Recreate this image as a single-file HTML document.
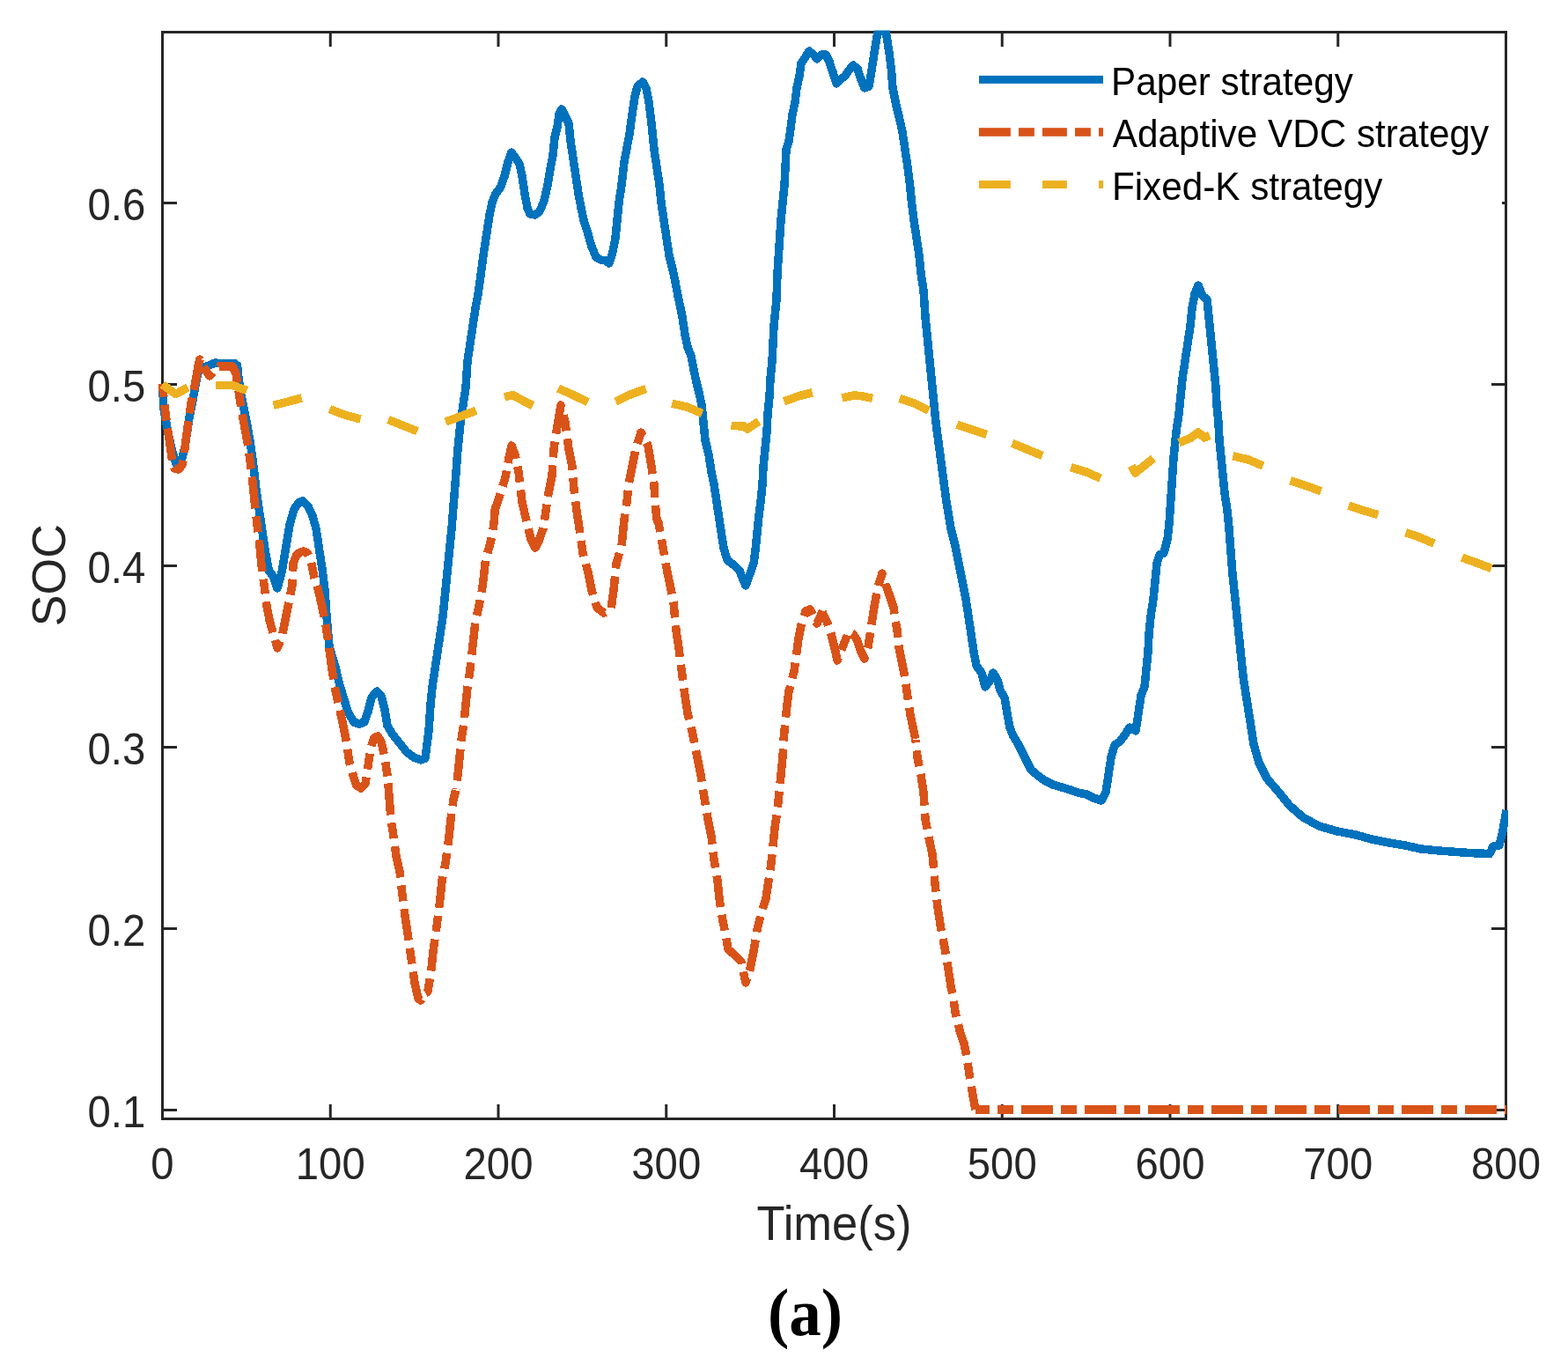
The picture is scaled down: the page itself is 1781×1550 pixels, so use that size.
<!DOCTYPE html><html><head><meta charset="utf-8"><title>SOC</title><style>
html,body{margin:0;padding:0;background:#fff;overflow:hidden;}
svg{display:block;}
text{font-family:"Liberation Sans",Arial,Helvetica,sans-serif;}
</style></head><body>
<svg width="1781" height="1550" viewBox="0 0 1781 1550">
<rect width="1781" height="1550" fill="#fff"/>
<defs><clipPath id="pc"><rect x="176" y="34.5" width="1537" height="1238"/></clipPath></defs>
<g stroke="#262626" fill="none" stroke-width="3" stroke-linecap="square">
<rect x="184.5" y="36.5" width="1526.0" height="1234.0"/>
</g>
<g stroke="#262626" stroke-width="3" fill="none">
<path d="M375.25 1270.5V1254.0M375.25 36.5V53.0"/>
<path d="M566.00 1270.5V1254.0M566.00 36.5V53.0"/>
<path d="M756.75 1270.5V1254.0M756.75 36.5V53.0"/>
<path d="M947.50 1270.5V1254.0M947.50 36.5V53.0"/>
<path d="M1138.25 1270.5V1254.0M1138.25 36.5V53.0"/>
<path d="M1329.00 1270.5V1254.0M1329.00 36.5V53.0"/>
<path d="M1519.75 1270.5V1254.0M1519.75 36.5V53.0"/>
<path d="M184.5 1260.50H201.0M1710.5 1260.50H1694.0"/>
<path d="M184.5 1054.50H201.0M1710.5 1054.50H1694.0"/>
<path d="M184.5 848.50H201.0M1710.5 848.50H1694.0"/>
<path d="M184.5 642.50H201.0M1710.5 642.50H1694.0"/>
<path d="M184.5 436.50H201.0M1710.5 436.50H1694.0"/>
<path d="M184.5 230.50H201.0M1710.5 230.50H1706.0"/>
</g>
<text transform="translate(184.50 1338.50) scale(0.985 1.045)" font-size="48.0" fill="#262626" text-anchor="middle">0</text>
<text transform="translate(375.25 1338.50) scale(0.985 1.045)" font-size="48.0" fill="#262626" text-anchor="middle">100</text>
<text transform="translate(566.00 1338.50) scale(0.985 1.045)" font-size="48.0" fill="#262626" text-anchor="middle">200</text>
<text transform="translate(756.75 1338.50) scale(0.985 1.045)" font-size="48.0" fill="#262626" text-anchor="middle">300</text>
<text transform="translate(947.50 1338.50) scale(0.985 1.045)" font-size="48.0" fill="#262626" text-anchor="middle">400</text>
<text transform="translate(1138.25 1338.50) scale(0.985 1.045)" font-size="48.0" fill="#262626" text-anchor="middle">500</text>
<text transform="translate(1329.00 1338.50) scale(0.985 1.045)" font-size="48.0" fill="#262626" text-anchor="middle">600</text>
<text transform="translate(1519.75 1338.50) scale(0.985 1.045)" font-size="48.0" fill="#262626" text-anchor="middle">700</text>
<text transform="translate(1710.50 1338.50) scale(0.985 1.045)" font-size="48.0" fill="#262626" text-anchor="middle">800</text>
<text transform="translate(165.30 1279.80) scale(0.985 1.045)" font-size="48.0" fill="#262626" text-anchor="end">0.1</text>
<text transform="translate(165.30 1073.80) scale(0.985 1.045)" font-size="48.0" fill="#262626" text-anchor="end">0.2</text>
<text transform="translate(165.30 867.80) scale(0.985 1.045)" font-size="48.0" fill="#262626" text-anchor="end">0.3</text>
<text transform="translate(165.30 661.80) scale(0.985 1.045)" font-size="48.0" fill="#262626" text-anchor="end">0.4</text>
<text transform="translate(165.30 455.80) scale(0.985 1.045)" font-size="48.0" fill="#262626" text-anchor="end">0.5</text>
<text transform="translate(165.30 249.80) scale(0.985 1.045)" font-size="48.0" fill="#262626" text-anchor="end">0.6</text>
<text transform="translate(947.50 1407.70) scale(0.995 1.036)" font-size="52.8" fill="#262626" text-anchor="middle">Time(s)</text>
<text transform="translate(74.4 653.2) rotate(-90) scale(1.015 1.0)" font-size="52.8" fill="#262626" text-anchor="middle">SOC</text>
<g clip-path="url(#pc)" fill="none" stroke-width="9.5" stroke-linejoin="round" shape-rendering="crispEdges">
<polyline points="184.5,436.0 186.0,464.0 191.0,492.0 195.0,510.0 200.0,527.0 206.0,523.0 210.0,508.0 215.0,474.0 219.0,454.0 223.0,432.0 227.0,415.0 232.0,417.0 240.0,414.0 244.0,412.0 250.0,412.5 260.0,412.5 266.0,412.5 269.5,415.0 271.0,430.0 273.5,446.0 277.0,464.0 281.0,484.0 284.5,504.0 288.0,530.0 291.0,556.0 294.5,580.0 298.0,604.0 302.0,630.0 305.5,648.0 310.0,654.0 315.0,668.0 320.0,650.0 324.0,626.0 329.0,596.0 334.0,578.0 340.0,570.0 344.0,569.0 350.0,575.0 355.0,586.0 359.0,600.0 362.0,620.0 366.0,646.0 369.0,670.0 371.0,700.0 374.0,734.0 380.0,754.0 386.0,778.0 392.0,798.0 396.0,810.0 402.0,820.0 408.0,822.0 414.0,820.0 418.0,808.0 422.0,792.0 428.0,785.0 433.0,790.0 437.0,806.0 440.0,824.0 446.0,834.0 454.0,844.0 462.0,854.0 470.0,860.0 478.0,863.0 483.0,861.0 485.0,845.0 487.0,830.0 489.0,800.0 491.0,780.0 494.0,760.0 497.0,740.0 500.0,720.0 503.0,700.0 505.0,680.0 507.0,660.0 509.0,640.0 511.0,620.0 513.0,600.0 517.0,550.0 520.0,510.0 523.0,480.0 526.0,460.0 529.0,440.0 531.0,410.0 534.0,390.0 537.0,370.0 540.0,350.0 543.0,334.0 545.0,320.0 549.0,290.0 553.0,264.0 556.0,244.0 559.0,230.0 563.0,220.0 569.0,212.0 573.0,200.0 577.0,184.0 581.0,173.0 586.0,180.0 590.0,186.0 593.0,200.0 596.0,220.0 599.0,236.0 602.0,243.0 608.0,244.0 613.0,240.0 618.0,228.0 622.0,210.0 625.0,192.0 628.0,176.0 630.0,156.0 633.0,144.0 635.0,130.0 638.0,124.0 642.0,132.0 646.0,140.0 648.0,160.0 651.0,180.0 654.0,200.0 657.0,220.0 660.0,236.0 663.0,250.0 668.0,266.0 672.0,280.0 677.0,292.0 682.0,295.0 688.0,296.0 692.0,299.0 696.0,286.0 699.0,270.0 701.0,250.0 703.0,230.0 706.0,210.0 709.0,184.0 712.0,168.0 715.0,152.0 718.0,130.0 721.0,110.0 724.0,98.0 730.0,93.0 734.0,100.0 737.0,116.0 740.0,140.0 743.0,170.0 746.0,190.0 749.0,210.0 751.0,230.0 754.0,250.0 757.0,270.0 760.0,290.0 764.0,306.0 767.0,320.0 770.0,336.0 773.0,350.0 775.0,360.0 778.0,380.0 781.0,394.0 785.0,404.0 788.0,420.0 791.0,434.0 794.0,446.0 797.0,460.0 799.0,480.0 801.0,500.0 805.0,516.0 808.0,536.0 811.0,550.0 814.0,570.0 817.0,590.0 820.0,610.0 822.0,622.0 826.0,636.0 834.0,642.0 840.0,648.0 844.0,658.0 847.0,665.0 851.0,654.0 856.0,640.0 858.0,625.0 860.0,605.0 862.0,585.0 864.0,570.0 866.0,550.0 867.0,530.0 869.0,510.0 871.0,490.0 872.0,470.0 874.0,450.0 875.0,430.0 877.0,410.0 878.0,390.0 879.0,370.0 881.0,350.0 882.0,340.0 883.0,310.0 885.0,280.0 887.0,250.0 889.0,230.0 891.0,210.0 892.0,190.0 893.0,170.0 896.0,160.0 898.0,146.0 900.0,130.0 903.0,116.0 905.0,100.0 908.0,86.0 910.0,72.0 914.0,66.0 919.0,58.0 924.0,62.0 928.0,67.0 933.0,62.0 938.0,62.0 942.0,70.0 946.0,82.0 950.0,95.0 955.0,90.0 960.0,86.0 964.0,80.0 969.0,74.0 974.0,78.0 978.0,90.0 982.0,100.0 987.0,98.0 990.0,80.0 993.0,60.0 996.0,42.0 998.5,31.0 1002.0,35.0 1005.5,31.0 1007.5,44.0 1010.0,60.0 1012.5,80.0 1014.0,100.0 1018.0,120.0 1021.5,134.0 1025.0,150.0 1028.0,170.0 1031.0,190.0 1033.5,210.0 1035.5,230.0 1038.0,250.0 1041.0,270.0 1044.0,290.0 1046.0,310.0 1049.0,330.0 1051.0,360.0 1054.0,390.0 1057.0,420.0 1060.0,450.0 1063.0,480.0 1067.0,510.0 1071.0,540.0 1075.0,570.0 1080.0,600.0 1085.0,620.0 1089.0,640.0 1093.0,660.0 1097.0,680.0 1100.0,700.0 1103.0,720.0 1106.0,740.0 1109.0,756.0 1115.0,764.0 1119.0,780.0 1125.0,772.0 1128.0,764.0 1133.0,772.0 1136.0,784.0 1141.0,792.0 1144.0,810.0 1147.0,826.0 1151.0,836.0 1156.0,844.0 1161.0,854.0 1166.0,864.0 1171.0,874.0 1178.0,880.0 1186.0,886.0 1196.0,891.0 1206.0,894.0 1216.0,897.0 1224.0,900.0 1234.0,902.0 1242.0,906.0 1251.0,909.0 1256.0,900.0 1259.0,880.0 1262.0,860.0 1266.0,846.0 1272.0,842.0 1278.0,834.0 1283.0,826.0 1290.0,830.0 1293.0,810.0 1296.0,790.0 1300.0,780.0 1302.0,760.0 1304.0,740.0 1305.0,720.0 1307.0,700.0 1310.0,680.0 1312.0,660.0 1314.0,640.0 1317.0,630.0 1322.0,628.0 1326.0,612.0 1328.0,595.0 1329.0,580.0 1331.0,550.0 1333.0,520.0 1336.0,490.0 1339.0,470.0 1341.0,450.0 1343.0,430.0 1346.0,410.0 1349.0,390.0 1352.0,370.0 1354.0,350.0 1357.0,334.0 1361.0,324.0 1366.0,336.0 1371.0,340.0 1373.0,360.0 1375.0,380.0 1377.0,400.0 1379.0,420.0 1381.0,440.0 1382.0,460.0 1384.0,480.0 1385.0,500.0 1387.0,520.0 1389.0,540.0 1391.0,560.0 1394.0,580.0 1396.0,600.0 1400.0,652.0 1404.0,690.0 1408.0,729.0 1412.0,768.0 1416.0,794.0 1420.0,819.0 1424.0,845.0 1430.0,866.0 1439.0,884.0 1452.0,899.0 1465.0,915.0 1480.0,928.0 1498.0,938.0 1519.0,944.0 1540.0,948.0 1558.0,953.0 1578.0,957.0 1596.0,960.0 1614.0,964.0 1635.0,966.0 1661.0,968.0 1679.0,969.0 1692.0,969.5 1696.0,961.0 1703.0,960.0 1707.0,943.0 1711.0,920.0" stroke="#0072BD" stroke-linecap="butt"/>
<polyline points="184.5,436.0 187.0,462.0 190.0,484.0 193.0,505.0 195.5,522.0 198.0,532.0 203.0,533.0 207.0,528.0 209.0,518.0 211.0,500.0 213.5,482.0 217.0,458.0 220.0,444.0 223.0,428.0 225.5,413.0 227.0,408.0 231.0,416.0 238.0,427.0 244.0,420.0 249.0,416.0 256.0,416.0 264.0,416.0 268.0,424.0 271.0,444.0 274.0,464.0 278.0,486.0 282.0,508.0 286.0,538.0 289.0,568.0 292.0,596.0 295.0,620.0 297.0,642.0 300.2,665.5" stroke="#D95319" stroke-dasharray="36 9 18 9" stroke-dashoffset="21.2" stroke-linecap="butt"/>
<polyline points="300.0,664.0 303.0,688.0 306.0,704.0 310.0,718.0 315.0,736.0 320.0,724.0 324.0,704.0 328.0,684.0 332.0,664.0 333.0,640.0 337.0,630.0 341.0,627.0 345.0,626.0 349.0,628.0 353.0,636.0 357.0,656.0 362.0,672.0 366.0,690.0 370.0,710.0 373.0,730.0 377.0,760.0 381.0,784.0 385.0,802.0 389.0,820.0 393.0,840.0 397.0,866.0 401.0,880.0 405.0,892.0 410.0,895.0 415.0,890.0 418.0,870.0 421.0,850.0 425.0,838.0 429.0,836.0 433.0,842.0 437.0,860.0 440.2,881.5" stroke="#D95319" stroke-dasharray="36 9 18 9" stroke-dashoffset="52.7" stroke-linecap="butt"/>
<polyline points="440.0,880.0 442.0,904.0 444.0,930.0 447.0,950.0 450.0,972.0 454.0,990.0 457.0,1016.0 460.0,1040.0 463.0,1060.0 467.0,1088.0 471.0,1116.0 475.0,1134.0 478.0,1136.0 482.0,1128.0 486.0,1126.0 490.0,1100.0 492.0,1080.0 496.0,1052.0 500.0,1020.0 502.0,1000.0 506.0,980.0 510.0,950.0 512.0,930.0 515.0,908.0 518.4,894.5" stroke="#D95319" stroke-dasharray="36 9 18 9" stroke-dashoffset="62.5" stroke-linecap="butt"/>
<polyline points="518.0,896.0 520.0,880.0 524.0,840.0 527.0,820.0 529.0,800.0 531.0,780.0 534.0,760.0 538.0,724.0 540.0,706.0 544.0,688.0 547.5,670.0 550.0,650.0 551.5,636.0 556.0,620.0 559.5,606.0 561.4,590.5" stroke="#D95319" stroke-dasharray="36 9 18 9" stroke-dashoffset="62.4" stroke-linecap="butt"/>
<polyline points="561.2,592.0 562.3,578.0 566.5,566.0 573.6,544.0 578.0,520.0 581.0,506.0 585.0,516.0 589.0,536.0 593.0,570.0 598.0,592.0 603.4,613.5" stroke="#D95319" stroke-dasharray="36 9 18 9" stroke-dashoffset="3.6" stroke-linecap="butt"/>
<polyline points="603.0,612.0 608.0,622.0 613.0,612.0 617.0,600.0 620.0,580.0 623.0,560.0 627.0,540.0 629.0,510.0 632.0,490.0 637.0,460.0 642.0,480.0 646.0,510.0 650.0,530.0 652.0,556.0 655.0,580.0 658.0,600.0 662.0,628.0 668.0,650.0 672.0,670.0 678.0,690.0 686.0,696.0 694.0,692.0 697.0,670.0 700.0,640.0 706.0,620.0 708.0,600.0 709.0,590.0 712.0,570.0 714.0,550.0 718.0,530.0 722.0,510.0 728.0,491.0 736.0,506.0 740.0,530.0 743.0,550.0 744.0,570.0 746.0,590.0 748.7,595.3" stroke="#D95319" stroke-dasharray="36 9 18 9" stroke-dashoffset="0.5" stroke-linecap="butt"/>
<polyline points="748.0,594.0 752.0,616.0 758.0,650.0 761.0,664.0 765.0,684.0 768.0,716.0 771.0,736.0 774.0,760.0 778.0,790.0 781.0,810.0 786.0,830.0 792.0,860.0 796.0,880.0 800.0,906.0 804.0,930.0 808.0,950.0 811.0,976.0 815.0,1000.0 817.0,1020.0 821.0,1046.0 824.0,1060.0 827.0,1078.0 834.0,1084.0 842.0,1092.0 847.0,1116.0 852.0,1100.0 856.0,1080.0 860.0,1056.0 865.0,1036.0 870.0,1020.0 873.0,1000.0 876.0,980.0 878.0,960.0 880.0,940.0 883.0,920.0 885.0,900.0 887.0,880.0 889.1,858.5" stroke="#D95319" stroke-dasharray="36 9 18 9" stroke-dashoffset="26.0" stroke-linecap="butt"/>
<polyline points="889.0,860.0 890.0,840.0 892.0,820.0 894.0,800.0 896.0,785.0 902.0,762.0 905.0,740.0 907.0,725.0 910.0,710.0 915.0,694.0 920.0,692.0 928.0,708.0 934.6,693.6" stroke="#D95319" stroke-dasharray="36 9 18 9" stroke-dashoffset="26.4" stroke-linecap="butt"/>
<polyline points="934.0,695.0 940.0,708.0 944.0,720.0 949.0,740.0 951.0,750.0 955.0,740.0 959.0,730.0 964.0,717.0 969.0,720.0 973.0,726.0 978.0,740.0 982.0,748.0 986.0,735.0 989.0,715.0 992.0,695.0 995.0,678.0 998.0,664.0 1002.0,651.0 1006.0,664.0 1010.0,675.0 1015.0,690.0 1017.0,705.0 1019.0,715.0 1021.0,735.0 1024.0,750.0 1027.0,765.0 1030.0,785.0 1034.0,812.0 1040.3,841.5" stroke="#D95319" stroke-dasharray="36 9 18 9" stroke-dashoffset="46.4" stroke-linecap="butt"/>
<polyline points="1040.0,840.0 1042.0,860.0 1046.0,880.0 1049.0,900.0 1051.0,930.0 1056.0,956.0 1059.0,970.0 1060.0,980.0 1062.0,1004.0 1065.0,1030.0 1068.0,1050.0 1073.0,1076.0 1077.0,1100.0 1080.0,1120.0 1082.0,1129.0 1085.0,1149.0 1090.0,1170.0 1095.0,1185.0 1098.0,1200.0 1101.0,1220.0 1105.0,1244.0 1108.0,1260.0" stroke="#D95319" stroke-dasharray="36 9 18 9" stroke-dashoffset="32.6" stroke-linecap="butt"/>
<path d="M1108.0 1260.0H1711.0" stroke="#D95319" stroke-dasharray="36 9 18 9" stroke-dashoffset="20.0" stroke-linecap="butt"/>
<polyline points="184.5,436.5 199.5,447.5 213.5,440.0" stroke="#EDB120" stroke-linecap="butt"/>
<polyline points="245.3,437.5 264.0,437.5 280.5,443.5" stroke="#EDB120" stroke-linecap="butt"/>
<polyline points="310.5,460.3 342.8,452.0" stroke="#EDB120" stroke-linecap="butt"/>
<polyline points="374.4,464.5 391.0,471.0 409.5,476.0" stroke="#EDB120" stroke-linecap="butt"/>
<polyline points="441.0,476.6 457.5,483.0 474.0,489.8" stroke="#EDB120" stroke-linecap="butt"/>
<polyline points="506.3,479.0 540.7,466.3" stroke="#EDB120" stroke-linecap="butt"/>
<polyline points="573.0,451.0 582.5,448.5 594.0,455.0 605.3,460.6" stroke="#EDB120" stroke-linecap="butt"/>
<polyline points="634.0,441.0 650.0,448.0 667.8,456.8" stroke="#EDB120" stroke-linecap="butt"/>
<polyline points="699.3,456.0 716.0,448.0 733.7,441.4" stroke="#EDB120" stroke-linecap="butt"/>
<polyline points="763.2,458.2 780.0,462.0 797.6,469.4" stroke="#EDB120" stroke-linecap="butt"/>
<polyline points="830.5,483.5 845.0,484.0 849.0,487.0 862.0,478.3" stroke="#EDB120" stroke-linecap="butt"/>
<polyline points="890.5,455.8 908.0,449.5 922.8,445.8" stroke="#EDB120" stroke-linecap="butt"/>
<polyline points="956.5,452.0 970.0,448.8 980.0,450.0 991.0,452.3" stroke="#EDB120" stroke-linecap="butt"/>
<polyline points="1021.8,452.4 1038.6,458.0 1054.8,466.0" stroke="#EDB120" stroke-linecap="butt"/>
<polyline points="1087.0,482.0 1103.0,487.5 1120.7,493.3" stroke="#EDB120" stroke-linecap="butt"/>
<polyline points="1149.7,503.4 1166.0,510.0 1184.0,517.5" stroke="#EDB120" stroke-linecap="butt"/>
<polyline points="1216.3,530.7 1234.0,536.0 1250.0,543.2" stroke="#EDB120" stroke-linecap="butt"/>
<polyline points="1285.0,529.0 1289.5,537.0 1310.0,520.5" stroke="#EDB120" stroke-linecap="butt"/>
<polyline points="1339.0,502.7 1352.0,497.5 1361.0,491.0 1368.0,497.0 1374.0,494.5" stroke="#EDB120" stroke-linecap="butt"/>
<polyline points="1400.4,517.7 1418.0,522.0 1434.7,529.0" stroke="#EDB120" stroke-linecap="butt"/>
<polyline points="1465.6,545.6 1483.0,551.5 1500.7,557.8" stroke="#EDB120" stroke-linecap="butt"/>
<polyline points="1531.8,574.0 1548.0,579.5 1565.2,584.6" stroke="#EDB120" stroke-linecap="butt"/>
<polyline points="1596.7,604.8 1612.0,610.0 1629.0,617.2" stroke="#EDB120" stroke-linecap="butt"/>
<polyline points="1660.6,633.1 1677.0,639.0 1694.0,645.5" stroke="#EDB120" stroke-linecap="butt"/>
</g>
<rect x="1112" y="85.9" width="141" height="9" fill="#0072BD"/>
<text transform="translate(1262.10 108.20) scale(0.978 1.045)" font-size="43.2" fill="#000">Paper strategy</text>
<rect x="1111.9" y="145.2" width="36.0" height="9.6" fill="#D95319"/>
<rect x="1157.0" y="145.2" width="17.9" height="9.6" fill="#D95319"/>
<rect x="1184.0" y="145.2" width="27.9" height="9.6" fill="#D95319"/>
<rect x="1221.0" y="145.2" width="17.9" height="9.6" fill="#D95319"/>
<rect x="1248.0" y="145.2" width="5.0" height="9.6" fill="#D95319"/>
<text transform="translate(1263.80 167.40) scale(0.978 1.045)" font-size="43.2" fill="#000">Adaptive VDC strategy</text>
<rect x="1111.9" y="205.0" width="36.0" height="9" fill="#EDB120"/>
<rect x="1184.0" y="205.0" width="27.9" height="9" fill="#EDB120"/>
<rect x="1248.0" y="205.0" width="5.0" height="9" fill="#EDB120"/>
<text transform="translate(1262.90 226.80) scale(0.978 1.045)" font-size="43.2" fill="#000">Fixed-K strategy</text>
<text transform="translate(914.50 1516.20) scale(0.967 1.000)" font-size="75.4" fill="#000" text-anchor="middle" font-weight="bold" style="font-family:'Liberation Serif','Times New Roman',serif">(a)</text>
</svg></body></html>
